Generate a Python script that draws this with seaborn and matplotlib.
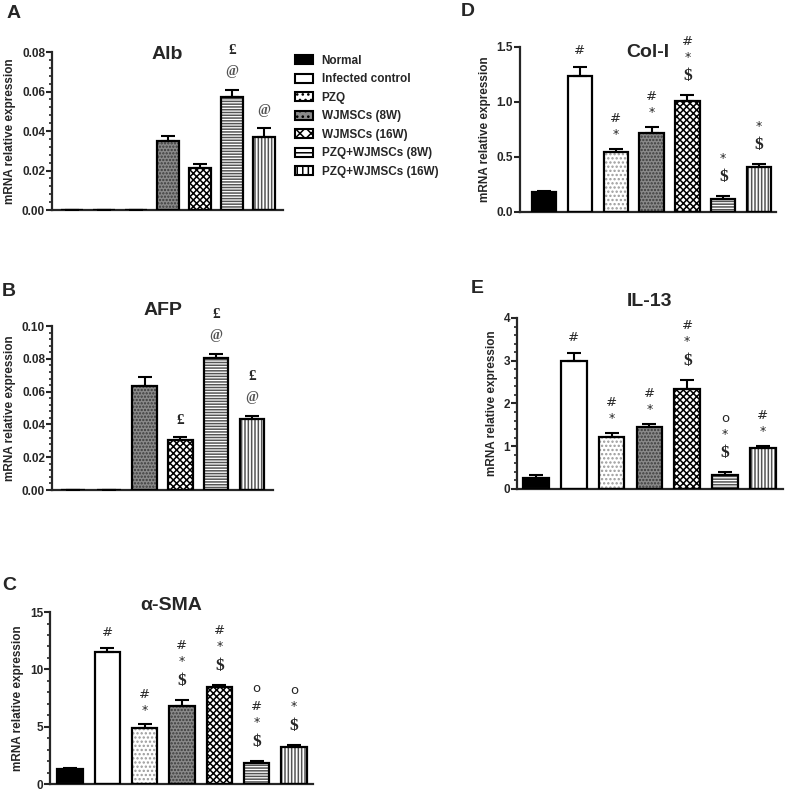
import pandas as pd
import seaborn as sns
import matplotlib.pyplot as plt
from matplotlib.patches import Patch, Rectangle
from matplotlib.ticker import AutoMinorLocator, MultipleLocator

sns.set_style('ticks')
plt.rcParams['font.family'] = ['Liberation Sans', 'DejaVu Sans']
plt.rcParams['hatch.linewidth'] = 1.1

groups = ['Normal', 'Infected control', 'PZQ', 'WJMSCs (8W)', 'WJMSCs (16W)',
          'PZQ+WJMSCs (8W)', 'PZQ+WJMSCs (16W)']
groups_b = ['Normal', 'Infected control', 'WJMSCs (8W)', 'WJMSCs (16W)',
            'PZQ+WJMSCs (8W)', 'PZQ+WJMSCs (16W)']

# marks are read top to bottom above each bar
alb_mean = [0, 0, 0, 0.035, 0.0215, 0.057, 0.037]
alb_sem = [0, 0, 0, 0.0025, 0.002, 0.004, 0.0045]
alb_marks = ['', '', '', '', '', '£@', '@']

afp_mean = [0, 0, 0.0634, 0.0305, 0.0805, 0.0431]
afp_sem = [0, 0, 0.0056, 0.0017, 0.0025, 0.0022]
afp_marks = ['', '', '', '£', '£@', '£@']

sma_mean = [1.3, 11.5, 4.86, 6.85, 8.45, 1.8, 3.26]
sma_sem = [0.1, 0.35, 0.35, 0.49, 0.23, 0.24, 0.15]
sma_marks = ['', '#', '#*', '#*$', '#*$', 'o#*$', 'o*$']

col_mean = [0.18, 1.24, 0.545, 0.718, 1.009, 0.121, 0.409]
col_sem = [0.01, 0.08, 0.031, 0.055, 0.051, 0.021, 0.024]
col_marks = ['', '#', '#*', '#*', '#*$', '*$', '*$']

il_mean = [0.265, 2.99, 1.21, 1.455, 2.35, 0.33, 0.95]
il_sem = [0.055, 0.19, 0.11, 0.075, 0.21, 0.06, 0.06]
il_marks = ['', '#', '#*', '#*', '#*$', 'o*$', '#*']

# face colour, hatch, hatch colour
bar_style = {
    'Normal': ('black', '', 'black'),
    'Infected control': ('white', '', 'black'),
    'PZQ': ('white', '....', '#9a9a9a'),
    'WJMSCs (8W)': ('#8a8a8a', '.....', '#3a3a3a'),
    'WJMSCs (16W)': ('white', 'xxxxx', 'black'),
    'PZQ+WJMSCs (8W)': ('white', '------', '#555555'),
    'PZQ+WJMSCs (16W)': ('white', '|||||', '#555555'),
}

sym_style = {
    '#': dict(fontsize=9.5, family='DejaVu Sans'),
    '*': dict(fontsize=9, family='DejaVu Sans'),
    'o': dict(fontsize=9.5, family='DejaVu Sans'),
    '$': dict(fontsize=12.5, weight='bold', family='Liberation Serif'),
    '£': dict(fontsize=11, weight='bold', family='Liberation Serif'),
    '@': dict(fontsize=10, weight='bold', family='Liberation Serif', color='#555555'),
}
sym_height = {'#': 12, '*': 8, 'o': 12, '$': 18, '£': 14, '@': 16}


def draw_panel(fig, rect, cats, mean, sem, marks, title, ylim, major, minor, xlim,
               title_pos, letter, letter_pos):
    ax = fig.add_axes(rect)
    df = pd.DataFrame({'group': cats, 'value': mean})
    palette = {g: bar_style[g][0] for g in cats}
    sns.barplot(data=df, x='group', y='value', hue='group', order=cats, hue_order=cats,
                palette=palette, width=0.68, legend=False, errorbar=None, ax=ax)
    for p in list(ax.patches):
        idx = int(round(p.get_x() + p.get_width() / 2))
        face, hatch, hcol = bar_style[cats[idx]]
        p.set_hatch(hatch)
        p.set_edgecolor(hcol)
        p.set_linewidth(0)
        ax.add_patch(Rectangle(p.get_xy(), p.get_width(), p.get_height(), fill=False,
                               edgecolor='black', linewidth=1.6, zorder=3))
    xs = list(range(len(cats)))
    ax.errorbar(xs, mean, yerr=[[0] * len(cats), sem], fmt='none', ecolor='black',
                elinewidth=1.5, capsize=5, capthick=1.5, zorder=4)
    for i, m in enumerate(marks):
        y = 10
        for s in reversed(m):
            h = sym_height[s]
            ax.annotate(s, (i, mean[i] + sem[i]), xytext=(0, y + h / 2),
                        textcoords='offset pixels', ha='center', va='center', **sym_style[s])
            y += h + 6
    ax.set_xlim(*xlim)
    ax.set_ylim(*ylim)
    ax.yaxis.set_major_locator(MultipleLocator(major))
    if minor:
        ax.yaxis.set_minor_locator(AutoMinorLocator(minor))
    ax.set_xticks([])
    ax.set_xlabel('')
    ax.set_ylabel('mRNA relative expression', fontsize=8.5, fontweight='bold')
    for lab in ax.get_yticklabels():
        lab.set_fontweight('bold')
    ax.tick_params(axis='y', which='major', labelsize=8.5, width=1.5, length=4, pad=1)
    ax.tick_params(axis='y', which='minor', width=1.2, length=2)
    sns.despine(ax=ax)
    ax.spines['left'].set_linewidth(1.6)
    ax.spines['bottom'].set_linewidth(1.6)
    ax.annotate(title, xy=(title_pos[0], 1), xycoords='axes fraction', xytext=(0, title_pos[1]),
                textcoords='offset pixels', ha='center', va='center', fontsize=14,
                fontweight='bold')
    fig.text(letter_pos[0] / 787, 1 - letter_pos[1] / 791, letter, fontsize=14,
             fontweight='bold', ha='center', va='center')
    return ax


fig = plt.figure(figsize=(7.87, 7.91), dpi=100)

draw_panel(fig, [0.0661, 0.7345, 0.2935, 0.1997], groups, alb_mean, alb_sem, alb_marks,
           'Alb', (0, 0.08), 0.02, 5, (-0.625, 6.6), (0.5, -2), 'A', (14, 13))
draw_panel(fig, [0.0661, 0.3805, 0.2808, 0.2073], groups_b, afp_mean, afp_sem, afp_marks,
           'AFP', (0, 0.10), 0.02, 5, (-0.59, 5.59), (0.5, 16), 'B', (9, 292))
draw_panel(fig, [0.0635, 0.0088, 0.3342, 0.2174], groups, sma_mean, sma_sem, sma_marks,
           'α-SMA', (0, 15), 5, 5, (-0.54, 6.51), (0.46, 7), 'C', (9, 585))
draw_panel(fig, [0.6607, 0.732, 0.3253, 0.2086], groups, col_mean, col_sem, col_marks,
           'Col-I', (0, 1.5), 0.5, None, (-0.67, 6.47), (0.5, -6), 'D', (468, 12))
draw_panel(fig, [0.6569, 0.3818, 0.338, 0.2162], groups, il_mean, il_sem, il_marks,
           'IL-13', (0, 4), 1, 5, (-0.5, 6.53), (0.5, 16), 'E', (477, 288))

handles = [Patch(facecolor=bar_style[g][0], hatch=bar_style[g][1][:3], edgecolor='black',
                 linewidth=1.5) for g in groups]
fig.legend(handles, groups, loc='upper left', bbox_to_anchor=(295 / 787, 1 - 55 / 791),
           frameon=False, borderpad=0, borderaxespad=0, handlelength=1.5, handleheight=0.8,
           labelspacing=0.55, handletextpad=0.75,
           prop={'size': 8.5, 'weight': 'bold'})

fig.savefig('out.png', dpi=100)
